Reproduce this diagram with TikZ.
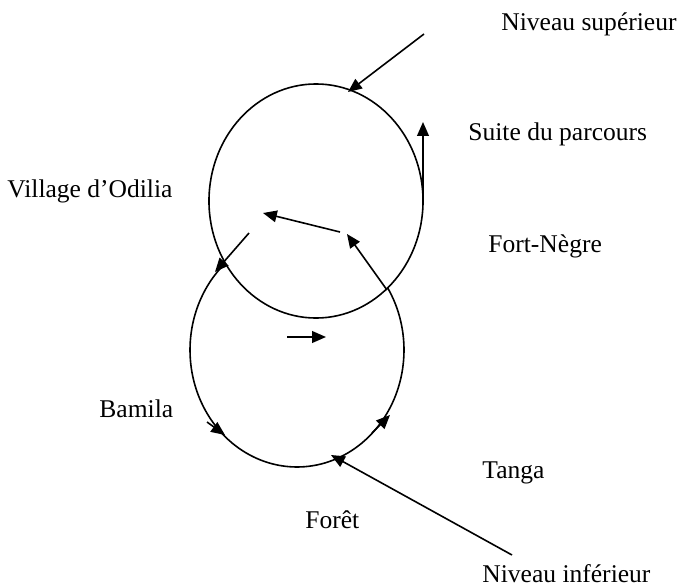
\documentclass[tikz,border=0pt]{standalone}
\usepackage{fontspec}
\setmainfont{Liberation Serif}
\usetikzlibrary{arrows.meta, shapes.geometric}

\begin{document}
\begin{tikzpicture}[
		x=0.47pt, y=-0.47pt,
		lieu/.style={anchor=base west, inner sep=0pt, font=\fontsize{12}{14}\selectfont},
		boucle/.style={ellipse, draw, line width=0.75pt, inner sep=0pt,
		minimum width=100.6pt, minimum height=110pt},
		fleche/.style={line width=0.75pt, -{Triangle[length=6.5pt, width=5.5pt]}}
		]
		\useasboundingbox (0,0) rectangle (679,587);

		% boucle du haut, puis l'arc visible de la boucle du bas
		\node[boucle](haut) at (316,201){};
		\draw[line width=0.75pt] plot[domain=-32.1:228, samples=120, smooth]
			({297+107*cos(\x)}, {350+117*sin(\x)});

		% les etiquettes
		\node[lieu](sup) at (501,30){Niveau supérieur};
		\node[lieu](suite) at (468,140){Suite du parcours};
		\node[lieu](odilia) at (7,197){Village d’Odilia};
		\node[lieu](fort) at (488,252){Fort-Nègre};
		\node[lieu](bamila) at (99,417){Bamila};
		\node[lieu](tanga) at (482,478){Tanga};
		\node[lieu](foret) at (305,528){Forêt};
		\node[lieu](inf) at (482,582){Niveau inférieur};

		% extremites des fleches
		\coordinate (supA) at (424,34);
		\coordinate (supB) at (348,92);
		\coordinate (suiteA) at (423,200);
		\coordinate (suiteB) at (423,122);
		\coordinate (hA) at (340,232);
		\coordinate (hB) at (263,213);
		\coordinate (fA) at (387,290);
		\coordinate (fB) at (347,234);
		\coordinate (vA) at (249,233);
		\coordinate (vB) at (215,272);
		\coordinate (mA) at (287,337);
		\coordinate (mB) at (326,337);
		\coordinate (bA) at (207,422);
		\coordinate (bB) at (225,435);
		\coordinate (tA) at (372,433);
		\coordinate (tB) at (390,415);
		\coordinate (infA) at (512,555);
		\coordinate (infB) at (331,455);

		\draw[fleche] (supA) -- (supB);
		\draw[fleche] (suiteA) -- (suiteB);
		\draw[fleche] (hA) -- (hB);
		\draw[fleche] (fA) -- (fB);
		\draw[fleche] (vA) -- (vB);
		\draw[fleche] (mA) -- (mB);
		\draw[fleche] (bA) -- (bB);
		\draw[fleche] (tA) -- (tB);
		\draw[fleche] (infA) -- (infB);
	\end{tikzpicture}
\end{document}
